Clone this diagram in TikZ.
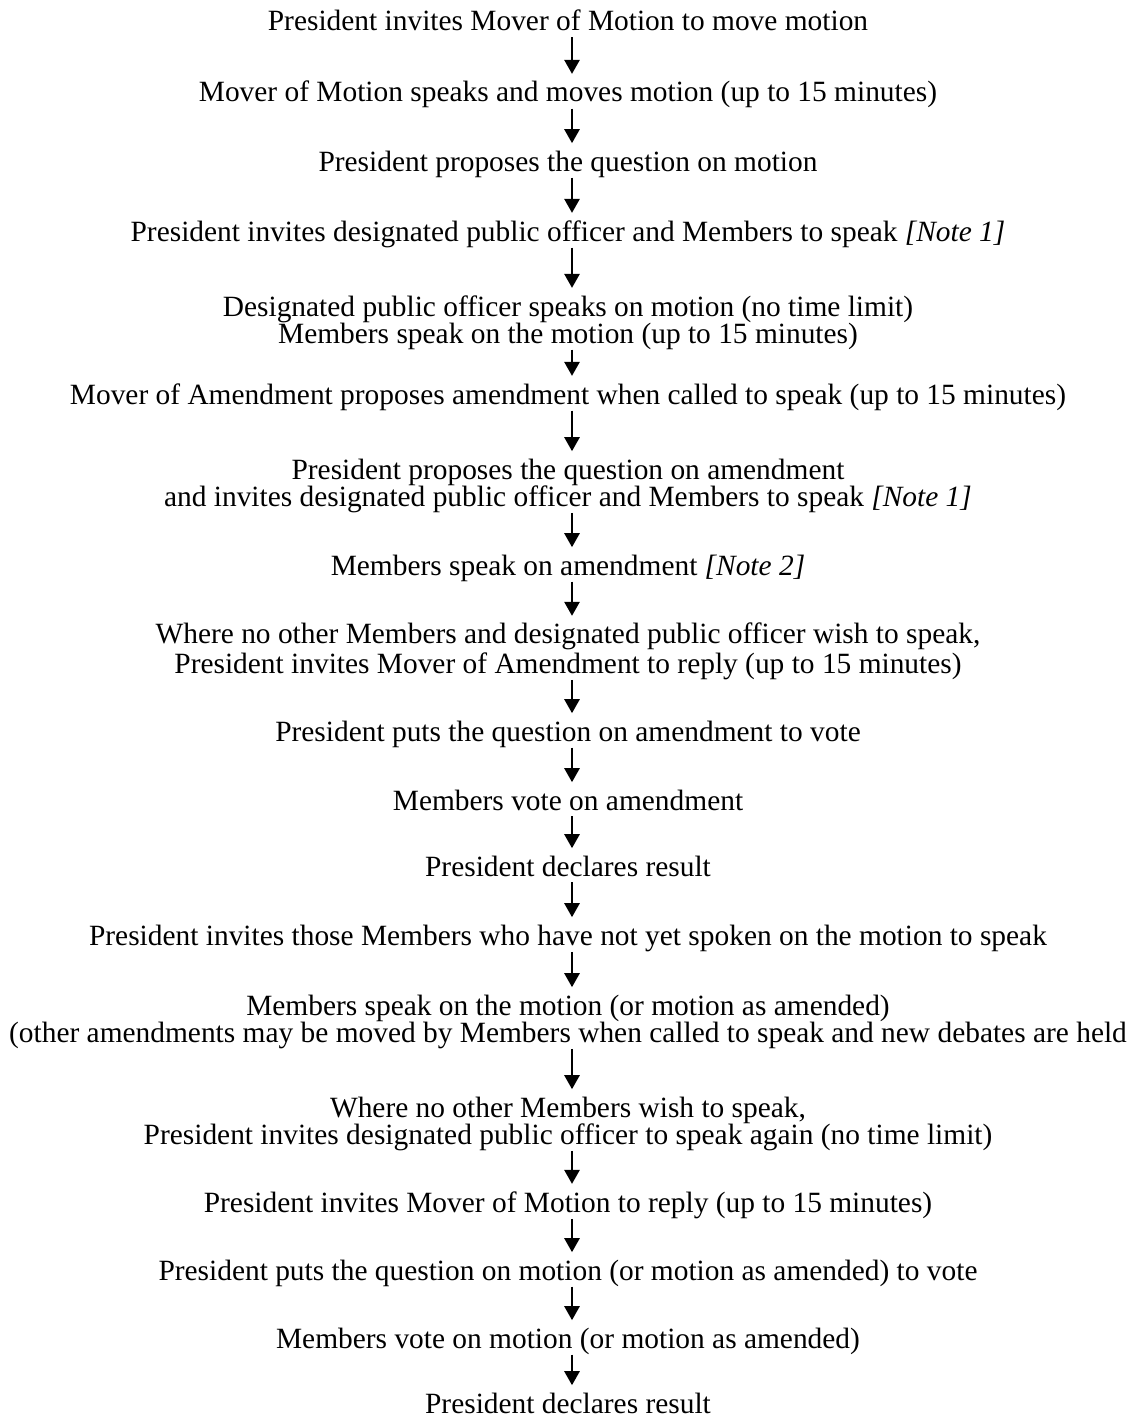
\documentclass[tikz,border=0pt]{standalone}
\usepackage{fontspec}
\setmainfont{Liberation Serif}
\usetikzlibrary{arrows.meta}

\newcommand{\lnstrut}{\rule[-3pt]{0pt}{13pt}}

\begin{document}
\begin{tikzpicture}[x=0.5pt,y=-0.5pt,
        stage/.style={inner sep=0pt, align=center, anchor=base,
            font=\fontsize{14.7}{13.5}\selectfont},
        flow/.style={-{Triangle[width=7.5pt,length=7pt]}, line width=1.3pt,
            shorten >=3.5pt}]
        \useasboundingbox (0,0) rectangle (1132,1418);

        % base of a two-line stage sits on its last line
        \node[stage] (s1) at (568,31) {\lnstrut President invites Mover of Motion to move motion};
        \node[stage] (s2) at (568,102) {\lnstrut Mover of Motion speaks and moves motion (up to 15 minutes)};
        \node[stage] (s3) at (568,171) {\lnstrut President proposes the question on motion};
        \node[stage] (s4) at (568,241) {\lnstrut President invites designated public officer and Members to speak \textit{[Note 1]}};
        \node[stage] (s5) at (568,343) {\lnstrut Designated public officer speaks on motion (no time limit)\\
            Members speak on the motion (up to 15 minutes)\lnstrut};
        \node[stage] (s6) at (568,404) {\lnstrut Mover of Amendment proposes amendment when called to speak (up to 15 minutes)};
        \node[stage] (s7) at (568,506) {\lnstrut President proposes the question on amendment\\
            and invites designated public officer and Members to speak \textit{[Note 1]}\lnstrut};
        \node[stage] (s8) at (568,575) {\lnstrut Members speak on amendment \textit{[Note 2]}};
        \node[stage] (s9) at (568,673) {\lnstrut Where no other Members and designated public officer wish to speak,\\
            President invites Mover of Amendment to reply (up to 15 minutes)\lnstrut};
        \node[stage] (s10) at (568,741) {\lnstrut President puts the question on amendment to vote};
        \node[stage] (s11) at (568,810) {\lnstrut Members vote on amendment};
        \node[stage] (s12) at (568,876) {\lnstrut President declares result};
        \node[stage] (s13) at (568,945) {\lnstrut President invites those Members who have not yet spoken on the motion to speak};
        \node[stage] (s14) at (568,1042) {\lnstrut Members speak on the motion (or motion as amended)\\
            (other amendments may be moved by Members when called to speak and new debates are held\lnstrut};
        \node[stage] (s15) at (568,1144) {\lnstrut Where no other Members wish to speak,\\
            President invites designated public officer to speak again (no time limit)\lnstrut};
        \node[stage] (s16) at (568,1212) {\lnstrut President invites Mover of Motion to reply (up to 15 minutes)};
        \node[stage] (s17) at (568,1280) {\lnstrut President puts the question on motion (or motion as amended) to vote};
        \node[stage] (s18) at (568,1348) {\lnstrut Members vote on motion (or motion as amended)};
        \node[stage] (s19) at (568,1413) {\rule{0pt}{10pt}President declares result};

        \draw[flow] ([xshift=2pt]s1.south) -- ([xshift=2pt]s2.north);
        \draw[flow] ([xshift=2pt]s2.south) -- ([xshift=2pt]s3.north);
        \draw[flow] ([xshift=2pt]s3.south) -- ([xshift=2pt]s4.north);
        \draw[flow] ([xshift=2pt]s4.south) -- ([xshift=2pt]s5.north);
        \draw[flow] ([xshift=2pt]s5.south) -- ([xshift=2pt]s6.north);
        \draw[flow] ([xshift=2pt]s6.south) -- ([xshift=2pt]s7.north);
        \draw[flow] ([xshift=2pt]s7.south) -- ([xshift=2pt]s8.north);
        \draw[flow] ([xshift=2pt]s8.south) -- ([xshift=2pt]s9.north);
        \draw[flow] ([xshift=2pt]s9.south) -- ([xshift=2pt]s10.north);
        \draw[flow] ([xshift=2pt]s10.south) -- ([xshift=2pt]s11.north);
        \draw[flow] ([xshift=2pt]s11.south) -- ([xshift=2pt]s12.north);
        \draw[flow] ([xshift=2pt]s12.south) -- ([xshift=2pt]s13.north);
        \draw[flow] ([xshift=2pt]s13.south) -- ([xshift=2pt]s14.north);
        \draw[flow] ([xshift=2pt]s14.south) -- ([xshift=2pt]s15.north);
        \draw[flow] ([xshift=2pt]s15.south) -- ([xshift=2pt]s16.north);
        \draw[flow] ([xshift=2pt]s16.south) -- ([xshift=2pt]s17.north);
        \draw[flow] ([xshift=2pt]s17.south) -- ([xshift=2pt]s18.north);
        \draw[flow] ([xshift=2pt]s18.south) -- ([xshift=2pt]s19.north);
    \end{tikzpicture}
\end{document}
